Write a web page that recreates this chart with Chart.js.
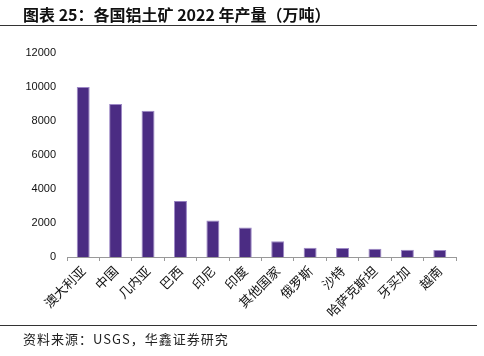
<!DOCTYPE html>
<html><head><meta charset="utf-8">
<script src="https://cdn.jsdelivr.net/npm/chart.js@4/dist/chart.umd.min.js"></script>
<style>
html,body{margin:0;padding:0;background:#fff;}
#wrap{position:relative;width:484px;height:356px;overflow:hidden;}
#title{position:absolute;left:23px;top:4px;font:bold 16px "Noto Sans CJK SC",sans-serif;color:#111;white-space:nowrap;line-height:20px;}
#l1{position:absolute;left:0;top:25px;width:477px;height:1px;background:#333;}
#l2{position:absolute;left:0;top:325px;width:477px;height:1px;background:#333;}
#foot{position:absolute;left:23px;top:330px;font:13px "Noto Sans CJK SC",sans-serif;letter-spacing:1px;color:#222;white-space:nowrap;line-height:18px;}
#c{position:absolute;left:0;top:0;}
</style></head>
<body><div id="wrap">
<canvas id="c" width="484" height="356"></canvas>
<div id="title">图表 25：各国铝土矿 2022 年产量（万吨）</div>
<div id="l1"></div>
<div id="foot">资料来源：USGS，华鑫证券研究</div>
<div id="l2"></div>
</div>
<script>
const categories = ["澳大利亚","中国","几内亚","巴西","印尼","印度","其他国家","俄罗斯","沙特","哈萨克斯坦","牙买加","越南"];
const production = [10000, 9000, 8600, 3300, 2150, 1730, 920, 550, 530, 490, 430, 410];
const yTicks = [0, 2000, 4000, 6000, 8000, 10000, 12000];

new Chart(document.getElementById('c'), {
  type: 'bar',
  data: {
    labels: categories,
    datasets: [{
      data: production,
      backgroundColor: '#4b2c83',
      borderColor: '#9d88c6',
      borderWidth: 1,
      categoryPercentage: 1,
      barPercentage: 0.4
    }]
  },
  options: {
    responsive: false,
    animation: false,
    plugins: { legend: { display: false }, tooltip: { enabled: false } },
    layout: { padding: { left: 12, right: 28, top: 53, bottom: 29 } },
    scales: {
      x: {
        afterFit: (ax) => { ax.height = 70; },
        grid: { display: true, drawOnChartArea: false, offset: true, tickLength: 4, color: '#999' },
        border: { display: true, color: '#999' },
        ticks: { maxRotation: 45, minRotation: 45, autoSkip: false, color: '#111', font: { family: '"Noto Sans CJK SC"', size: 13 }, padding: 2 }
      },
      y: {
        min: 0, max: 12000,
        afterBuildTicks: (ax) => { ax.ticks = yTicks.map(v => ({ value: v })); },
        afterFit: (ax) => { ax.width = 55; },
        grid: { display: false },
        border: { display: false },
        ticks: { color: '#111', font: { family: '"Liberation Sans", Arial, sans-serif', size: 11 }, padding: 3, callback: (v) => String(v) }
      }
    }
  }
});
</script>
</body></html>
